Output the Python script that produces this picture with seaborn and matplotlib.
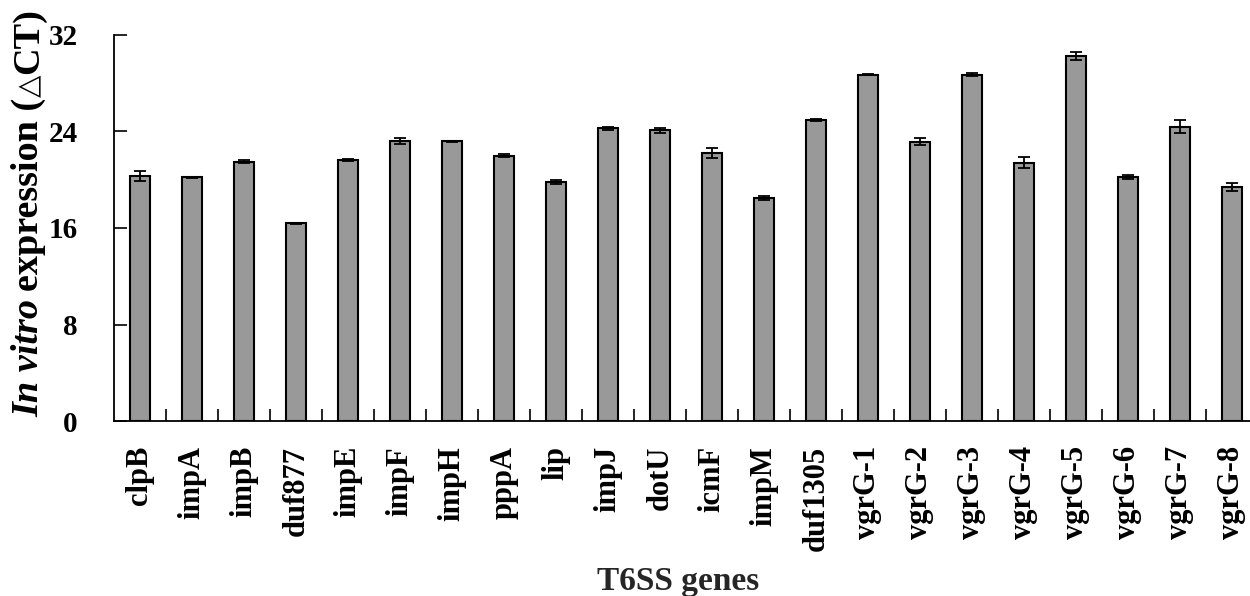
import matplotlib
matplotlib.use("Agg")
import matplotlib.pyplot as plt
import seaborn as sns
import numpy as np
import pandas as pd
from matplotlib.ticker import FixedLocator

genes = ["clpB", "impA", "impB", "duf877", "impE", "impF", "impH", "pppA", "lip",
         "impJ", "dotU", "icmF", "impM", "duf1305", "vgrG-1", "vgrG-2", "vgrG-3",
         "vgrG-4", "vgrG-5", "vgrG-6", "vgrG-7", "vgrG-8"]
delta_ct = [20.3, 20.2, 21.5, 16.4, 21.6, 23.2, 23.2, 22.0, 19.8,
            24.25, 24.1, 22.2, 18.5, 24.95, 28.7, 23.15, 28.7,
            21.4, 30.25, 20.25, 24.4, 19.4]
sd = [0.4, 0.05, 0.15, 0.05, 0.08, 0.25, 0.05, 0.12, 0.15,
      0.1, 0.23, 0.4, 0.15, 0.12, 0.05, 0.28, 0.12,
      0.45, 0.33, 0.18, 0.55, 0.33]
y_ticks = [0, 8, 16, 24, 32]

df = pd.DataFrame({"gene": genes, "dct": delta_ct})

sns.set_theme(style="ticks")
plt.rcParams["font.family"] = ["Liberation Serif", "DejaVu Serif"]

W, H = 1250, 596
fig = plt.figure(figsize=(12.5, 5.96), dpi=100)
ax = fig.add_axes([0.0912, 0.2936, 0.915, 0.6477])

sns.barplot(data=df, x="gene", y="dct", color="#999999", saturation=1,
            edgecolor="black", linewidth=1.5, width=0.39, errorbar=None, ax=ax)
ax.errorbar(x=np.arange(len(genes)), y=delta_ct, yerr=sd, fmt="none",
            ecolor="black", elinewidth=1.3, capsize=4, capthick=1.3, zorder=5)

ax.set_ylim(0, 32)
ax.set_xlim(-0.5, len(genes) - 0.5)
ax.set_yticks(y_ticks)
ax.set_yticklabels([str(t) for t in y_ticks], fontsize=21, fontweight="bold")
ax.tick_params(axis="y", direction="in", length=9, width=1.2, pad=26, colors="black")
ax.set_xticks(range(len(genes)))
ax.set_xticklabels(genes, rotation=90, fontsize=22, fontweight="bold")
ax.tick_params(axis="x", which="major", length=0, pad=18, colors="black")
ax.xaxis.set_minor_locator(FixedLocator(np.arange(0.5, len(genes) - 1, 1.0)))
ax.tick_params(axis="x", which="minor", direction="in", length=9, width=1.2, color="black")

for s in ["top", "right"]:
    ax.spines[s].set_visible(False)
for s in ["left", "bottom"]:
    ax.spines[s].set_linewidth(1.3)
    ax.spines[s].set_color("black")

ax.set_xlabel("T6SS genes", fontsize=24, fontweight="bold")
ax.xaxis.set_label_coords(0.4935, -0.376)
ax.set_ylabel("")

# y-axis title built from pieces (italic "In vitro", triangle from a font that has it)
fs = 27.5
pieces = [
    ("In vitro", dict(fontstyle="italic", fontweight="bold", fontsize=fs), 8),
    ("expression (", dict(fontweight="bold", fontsize=fs), 1),
    ("\u25b3", dict(family=["DejaVu Sans"], fontweight="normal", fontsize=21), 1),
    ("CT)", dict(fontweight="bold", fontsize=fs), 0),
]
renderer = fig.canvas.get_renderer()
xb = 38.0           # baseline x (pixels from left)
yb = 596 - 417.0    # start y (pixels from bottom)
for s, kw, gap in pieces:
    t = fig.text(xb / W, yb / H, s, rotation=90, rotation_mode="anchor",
                 ha="left", va="baseline", color="black", **kw)
    bb = t.get_window_extent(renderer)
    yb = bb.y1 + gap

fig.savefig("out.png", dpi=100, facecolor="white")
